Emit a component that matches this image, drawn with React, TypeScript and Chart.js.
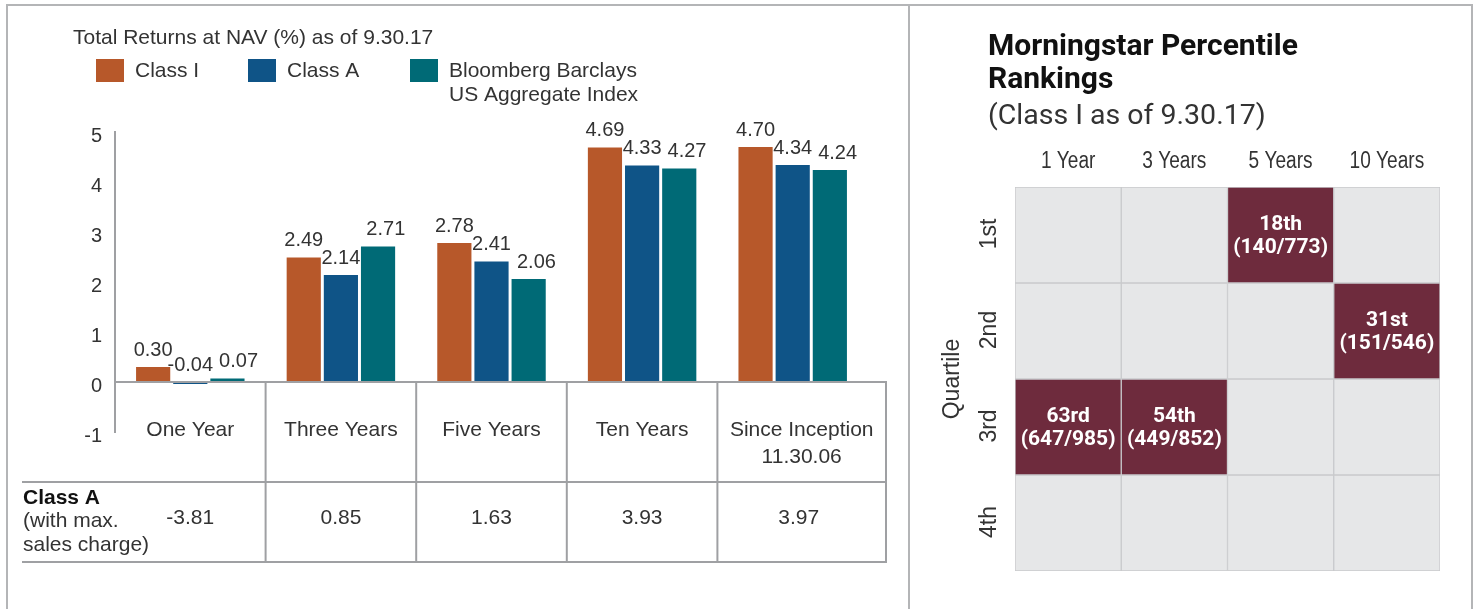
import React, { useEffect, useRef } from "react";
import { Chart, registerables } from "chart.js";

Chart.register(...registerables);

// ---------------- data ----------------
const chartTitle = "Total Returns at NAV (%) as of 9.30.17";
const legendLabels: string[][] = [["Class I"], ["Class A"], ["Bloomberg Barclays", "US Aggregate Index"]];
const categoryLabels: string[][] = [["One Year"], ["Three Years"], ["Five Years"], ["Ten Years"], ["Since Inception", "11.30.06"]];
const classIReturns = [0.3, 2.49, 2.78, 4.69, 4.7];
const classAReturns = [-0.04, 2.14, 2.41, 4.33, 4.34];
const benchmarkReturns = [0.07, 2.71, 2.06, 4.27, 4.24];
const maxSalesRowTitle = ["Class A", "(with max.", "sales charge)"];
const classAMaxSalesReturns = [-3.81, 0.85, 1.63, 3.93, 3.97];
const yAxisMin = -1;
const yAxisMax = 5;
const yAxisStep = 1;

const rankTitle = ["Morningstar Percentile", "Rankings"];
const rankSubtitle = "(Class I as of 9.30.17)";
const rankPeriods = ["1 Year", "3 Years", "5 Years", "10 Years"];
const quartileLabels = ["1st", "2nd", "3rd", "4th"];
const quartileAxisTitle = "Quartile";
const percentileRanks = [63, 54, 18, 31];
const fundRanks = [647, 449, 140, 151];
const categorySizes = [985, 852, 773, 546];

// ---------------- styles ----------------
const W = 1473;
const H = 609;
const ORANGE = "#b7582a";
const BLUE = "#0f5487";
const TEAL = "#006a76";
const MAROON = "#6e2b3d";
const CELL = "#e6e7e8";
const CELL_BORDER = "#c9cacc";
const LINE = "#9fa0a3";
const FRAME = "#b4b5b7";
const TEXT = "#333333";
const SANS = "'Liberation Sans', Arial, sans-serif";
const ROBOTO = "Roboto, 'Liberation Sans', Arial, sans-serif";

function drawText(
  ctx: CanvasRenderingContext2D,
  text: string,
  x: number,
  y: number,
  font: string,
  color: string,
  align: CanvasTextAlign = "center",
  scaleX = 1,
  rotate = 0
) {
  ctx.save();
  ctx.font = font;
  ctx.fillStyle = color;
  ctx.textAlign = align;
  ctx.textBaseline = "middle";
  ctx.translate(x, y);
  if (rotate) ctx.rotate(rotate);
  ctx.scale(scaleX, 1);
  ctx.fillText(text, 0, 0);
  ctx.restore();
}

function drawLine(ctx: CanvasRenderingContext2D, x1: number, y1: number, x2: number, y2: number, color = LINE, w = 2) {
  ctx.save();
  ctx.strokeStyle = color;
  ctx.lineWidth = w;
  ctx.beginPath();
  ctx.moveTo(x1, y1);
  ctx.lineTo(x2, y2);
  ctx.stroke();
  ctx.restore();
}

function ordinal(n: number) {
  const m100 = n % 100;
  if (m100 >= 11 && m100 <= 13) return n + "th";
  const m = n % 10;
  return n + (m === 1 ? "st" : m === 2 ? "nd" : m === 3 ? "rd" : "th");
}

function quartileOf(p: number) {
  return Math.min(3, Math.max(0, Math.ceil(p / 25) - 1));
}

// ---------------- left chart plugin ----------------
const returnsDecor = {
  id: "returnsDecor",
  afterDatasetsDraw(chart: any) {
    const { ctx, chartArea, scales } = chart;
    const y = scales.y;
    const y0 = y.getPixelForValue(0);
    const tableRight = chartArea.right + 18;
    drawLine(ctx, chartArea.left, y0, tableRight, y0);

    const font = `20px ${SANS}`;
    ctx.save();
    ctx.font = font;
    const n = chart.data.datasets.length;
    for (let i = 0; i < categoryLabels.length; i++) {
      let prevRight = -Infinity;
      for (let d = 0; d < n; d++) {
        const v = chart.data.datasets[d].data[i] as number;
        const el = chart.getDatasetMeta(d).data[i];
        const text = v.toFixed(2);
        const w = ctx.measureText(text).width;
        let cx = el.x;
        if (d === n - 1 && cx - w / 2 < prevRight + 6) cx = prevRight + 6 + w / 2;
        const cy = y.getPixelForValue(Math.max(v, 0)) - 17;
        drawText(ctx, text, cx, cy, font, TEXT);
        prevRight = cx + w / 2;
      }
    }
    ctx.restore();
  },
  afterDraw(chart: any) {
    const { ctx, chartArea, scales } = chart;
    const x = scales.x;
    const y = scales.y;
    const y0 = y.getPixelForValue(0);
    const tableRight = chartArea.right + 18;
    const headerBottom = y0 + 100;
    const tableBottom = y0 + 180;
    const font = `21px ${SANS}`;

    // title
    drawText(ctx, chartTitle, 73, 38, font, TEXT, "left");

    // legend
    const legendX = [96, 248, 410];
    chart.data.datasets.forEach((ds: any, d: number) => {
      ctx.fillStyle = ds.backgroundColor;
      ctx.fillRect(legendX[d], 59, 28, 23);
      legendLabels[d].forEach((t, k) => drawText(ctx, t, legendX[d] + 39, 71 + k * 24, font, TEXT, "left"));
    });

    // table lines
    drawLine(ctx, 22, headerBottom, tableRight, headerBottom);
    drawLine(ctx, 22, tableBottom, tableRight, tableBottom);
    for (let i = 0; i < categoryLabels.length - 1; i++) {
      const bx = (x.getPixelForValue(i) + x.getPixelForValue(i + 1)) / 2;
      drawLine(ctx, bx, y0, bx, tableBottom);
    }
    drawLine(ctx, tableRight, y0 - 1, tableRight, tableBottom + 1);

    // category labels & values
    categoryLabels.forEach((lines, i) => {
      const left = i === 0 ? chartArea.left : (x.getPixelForValue(i - 1) + x.getPixelForValue(i)) / 2;
      const right = i === categoryLabels.length - 1 ? tableRight : (x.getPixelForValue(i) + x.getPixelForValue(i + 1)) / 2;
      const cx = i === 0 ? x.getPixelForValue(i) : (left + right) / 2;
      lines.forEach((t, k) => drawText(ctx, t, cx, y0 + 48 + k * 27, font, TEXT));
      const vx = i === categoryLabels.length - 1 ? (left + right) / 2 - 3 : x.getPixelForValue(i);
      drawText(ctx, classAMaxSalesReturns[i].toFixed(2), vx, y0 + 136, font, TEXT);
    });

    // row title
    drawText(ctx, maxSalesRowTitle[0], 23, y0 + 116, `bold 21px ${SANS}`, "#111", "left");
    drawText(ctx, maxSalesRowTitle[1], 23, y0 + 139, font, TEXT, "left");
    drawText(ctx, maxSalesRowTitle[2], 23, y0 + 163, font, TEXT, "left");
  },
};

// ---------------- right chart plugin ----------------
const rankDecor = {
  id: "rankDecor",
  afterDraw(chart: any) {
    const { ctx, chartArea, scales } = chart;
    const x = scales.x;
    const y = scales.y;
    const tx = chartArea.left - 27;

    drawText(ctx, rankTitle[0], tx, 47, `bold 30px ${ROBOTO}`, "#111", "left");
    drawText(ctx, rankTitle[1], tx, 80, `bold 30px ${ROBOTO}`, "#111", "left");
    drawText(ctx, rankSubtitle, tx, 117, `28.5px ${ROBOTO}`, TEXT, "left");

    rankPeriods.forEach((p, i) => {
      drawText(ctx, p, x.getPixelForValue(i), chartArea.top - 25, `23px ${SANS}`, TEXT, "center", 0.83);
    });

    quartileLabels.forEach((q, qi) => {
      drawText(ctx, q, chartArea.left - 25, y.getPixelForValue(qi + 0.5) - 1, `23px ${SANS}`, TEXT, "center", 1, -Math.PI / 2);
    });
    drawText(ctx, quartileAxisTitle, chartArea.left - 62, (chartArea.top + chartArea.bottom) / 2, `23px ${SANS}`, TEXT, "center", 1, -Math.PI / 2);

    percentileRanks.forEach((p, i) => {
      const q = quartileOf(p);
      const cx = x.getPixelForValue(i);
      const cy = y.getPixelForValue(q + 0.5);
      drawText(ctx, ordinal(p), cx, cy - 10.5, `bold 21px ${ROBOTO}`, "#ffffff");
      drawText(ctx, `(${fundRanks[i]}/${categorySizes[i]})`, cx, cy + 12.5, `bold 21px ${ROBOTO}`, "#ffffff");
    });
  },
};

export default function App() {
  const leftRef = useRef<HTMLCanvasElement>(null);
  const rightRef = useRef<HTMLCanvasElement>(null);

  useEffect(() => {
    if (!leftRef.current || !rightRef.current) return;
    const left = new Chart(leftRef.current, {
      type: "bar",
      data: {
        labels: categoryLabels.map((l) => l.join(" ")),
        datasets: [
          { label: legendLabels[0].join(" "), data: classIReturns, backgroundColor: ORANGE },
          { label: legendLabels[1].join(" "), data: classAReturns, backgroundColor: BLUE },
          { label: legendLabels[2].join(" "), data: benchmarkReturns, backgroundColor: TEAL },
        ],
      },
      options: {
        responsive: false,
        animation: false,
        events: [],
        layout: { padding: { left: 0, top: 132, right: W - 868, bottom: H - 432 } },
        datasets: { bar: { categoryPercentage: 0.74, barPercentage: 0.92 } },
        plugins: { legend: { display: false }, tooltip: { enabled: false }, title: { display: false } },
        scales: {
          x: { display: false },
          y: {
            min: yAxisMin,
            max: yAxisMax,
            afterFit: (s: any) => {
              s.width = 115;
            },
            grid: { display: false, drawTicks: false },
            border: { display: true, color: LINE, width: 2 },
            ticks: {
              stepSize: yAxisStep,
              padding: 13,
              labelOffset: 4,
              color: TEXT,
              font: { size: 20, family: SANS },
            },
          },
        },
      },
      plugins: [returnsDecor],
    } as any);

    const right = new Chart(rightRef.current, {
      type: "bar",
      data: {
        labels: rankPeriods,
        datasets: quartileLabels.map((q, qi) => ({
          label: q,
          data: rankPeriods.map(() => 1),
          backgroundColor: percentileRanks.map((p) => (quartileOf(p) === qi ? MAROON : CELL)),
          borderColor: CELL_BORDER,
          borderWidth: 1,
          borderSkipped: false,
        })),
      },
      options: {
        responsive: false,
        animation: false,
        events: [],
        layout: { padding: { left: 1015, top: 187, right: W - 1440, bottom: H - 571 } },
        datasets: { bar: { categoryPercentage: 1, barPercentage: 1 } },
        plugins: { legend: { display: false }, tooltip: { enabled: false }, title: { display: false } },
        scales: {
          x: { display: false, stacked: true },
          y: { display: false, stacked: true, min: 0, max: 4, reverse: true },
        },
      },
      plugins: [rankDecor],
    } as any);

    return () => {
      left.destroy();
      right.destroy();
    };
  }, []);

  return (
    <div style={{ position: "absolute", left: 0, top: 0, width: W, height: H, background: "#fff", overflow: "hidden" }}>
      <div
        style={{
          position: "absolute",
          left: 6,
          top: 4,
          width: 1463,
          height: H + 10,
          borderTop: `2px solid ${FRAME}`,
          borderLeft: `2px solid ${FRAME}`,
          borderRight: `2px solid ${FRAME}`,
        }}
      />
      <div style={{ position: "absolute", left: 908, top: 5, width: 2, height: H, background: FRAME }} />
      <canvas ref={leftRef} width={W} height={H} style={{ position: "absolute", left: 0, top: 0 }} />
      <canvas ref={rightRef} width={W} height={H} style={{ position: "absolute", left: 0, top: 0 }} />
    </div>
  );
}
